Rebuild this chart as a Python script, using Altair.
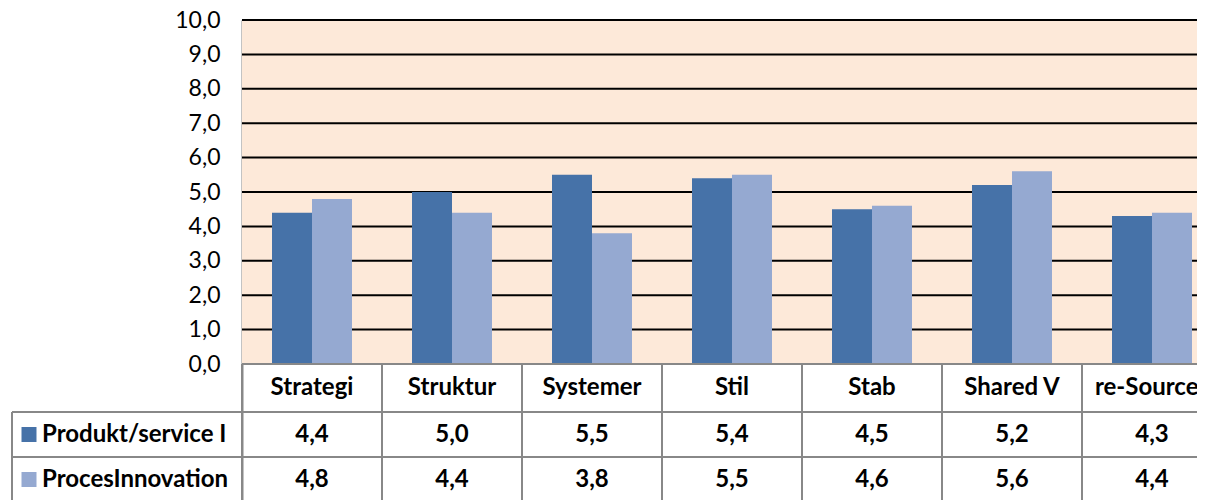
import altair as alt
import pandas as pd

# ---- data ----
categories = ["Strategi", "Struktur", "Systemer", "Stil", "Stab", "Shared V", "re-Sources"]
series_names = ["Produkt/service I", "ProcesInnovation"]
produkt_values = [4.4, 5.0, 5.5, 5.4, 4.5, 5.2, 4.3]
proces_values = [4.8, 4.4, 3.8, 5.5, 4.6, 5.6, 4.4]
y_ticks = [0, 1, 2, 3, 4, 5, 6, 7, 8, 9, 10]

# ---- styles / layout ----
DARK = "#4672A8"
LIGHT = "#95A9D1"
PEACH = "#FDE9D9"
TABLE_LINE = "#888888"
FONT = "Lato"

PX_PER_UNIT = 34.4          # pixels per y unit
FULL_W = 980                # full width of the category bands (partly cut off)
VIEW_W = 955                # visible plot width
Y_MAX = 10.0
# table rows (pixels below value 0)
ROW_CAT_BOTTOM = 48
ROW1_BOTTOM = 93
TABLE_BOTTOM = 138
VIEW_BOTTOM = 136


def v(px_below_zero):
    return -px_below_zero / PX_PER_UNIT


Y_MIN = v(VIEW_BOTTOM)
PLOT_H = (Y_MAX - Y_MIN) * PX_PER_UNIT

values = [produkt_values, proces_values]
colors = [DARK, LIGHT]

rows = []
for s, vals in zip(series_names, values):
    for c, val in zip(categories, vals):
        rows.append({"cat": c, "series": s, "value": val,
                     "label": f"{val:.1f}".replace(".", ",")})
bars_df = pd.DataFrame(rows)
cat_df = pd.DataFrame({"cat": categories})
tick_df = pd.DataFrame({"t": y_ticks})
one = pd.DataFrame({"k": [0]})

xscale = alt.Scale(domain=categories, paddingInner=0, paddingOuter=0, range=[0, FULL_W])
yscale = alt.Scale(domain=[Y_MIN, Y_MAX], nice=False, zero=False)

# peach background for the plot region
bg = alt.Chart(cat_df).mark_rect(color=PEACH).encode(
    x=alt.X("cat:N", scale=xscale, axis=None),
    y=alt.Y("z:Q", scale=yscale,
            axis=alt.Axis(values=y_ticks, grid=False, ticks=False,
                          labelExpr="replace(format(datum.value,'.1f'),'.',',')",
                          labelFont=FONT, labelFontSize=23, labelColor="black",
                          labelPadding=22, domainColor=TABLE_LINE, domainWidth=2,
                          title=None)),
    y2=alt.datum(Y_MAX),
).transform_calculate(z="0")

grid = alt.Chart(tick_df).mark_rule(color="black", strokeWidth=2).encode(
    y=alt.Y("t:Q"),
    x=alt.value(0), x2=alt.value(FULL_W),
).transform_filter("datum.t > 0")

bars = alt.Chart(bars_df).mark_bar().encode(
    x=alt.X("cat:N", scale=xscale, axis=None),
    xOffset=alt.XOffset("series:N", scale=alt.Scale(domain=series_names,
                                                     paddingInner=0, paddingOuter=0.75)),
    y=alt.Y("value:Q"),
    color=alt.Color("series:N", scale=alt.Scale(domain=series_names, range=colors),
                    legend=None),
)

# table lines
vlines = alt.Chart(cat_df).mark_rule(color=TABLE_LINE, strokeWidth=2).encode(
    x=alt.X("cat:N", scale=xscale, axis=None, bandPosition=0),
    y=alt.datum(0), y2=alt.datum(Y_MIN),
)
top_line = alt.Chart(one).mark_rule(color=TABLE_LINE, strokeWidth=2).encode(
    y=alt.datum(0), x=alt.value(0), x2=alt.value(FULL_W))
row_lines = [
    alt.Chart(one).mark_rule(color=TABLE_LINE, strokeWidth=2).encode(
        y=alt.datum(v(b)), x=alt.value(-230), x2=alt.value(FULL_W))
    for b in (ROW_CAT_BOTTOM, ROW1_BOTTOM)
]
left_line = alt.Chart(one).mark_rule(color=TABLE_LINE, strokeWidth=2).encode(
    x=alt.value(-230), y=alt.datum(v(ROW_CAT_BOTTOM)), y2=alt.datum(Y_MIN))

TXT = dict(font=FONT, fontSize=24, fontWeight="bold", color="black", baseline="middle")

cat_text = alt.Chart(cat_df).mark_text(**TXT).encode(
    x=alt.X("cat:N", scale=xscale, axis=None),
    y=alt.datum(v(ROW_CAT_BOTTOM / 2)),
    text="cat:N",
)

row_layers = []
row_tops = [ROW_CAT_BOTTOM, ROW1_BOTTOM]
row_bottoms = [ROW1_BOTTOM, TABLE_BOTTOM]
for i, s in enumerate(series_names):
    yc = v((row_tops[i] + row_bottoms[i]) / 2)
    d = bars_df[bars_df["series"] == s]
    row_layers.append(
        alt.Chart(d).mark_text(**TXT).encode(
            x=alt.X("cat:N", scale=xscale, axis=None),
            y=alt.datum(yc),
            text="label:N",
        ))
    sd = pd.DataFrame({"name": [s]})
    row_layers.append(
        alt.Chart(sd).mark_square(size=225, color=colors[i], opacity=1).encode(
            x=alt.value(-213), y=alt.datum(yc)))
    row_layers.append(
        alt.Chart(sd).mark_text(align="left", **TXT).encode(
            x=alt.value(-200), y=alt.datum(yc), text="name:N"))

chart = alt.layer(
    bg, grid, bars, vlines, top_line, *row_lines, left_line, cat_text, *row_layers
).properties(
    width=VIEW_W, height=PLOT_H,
    autosize=alt.AutoSizeParams(type="none"),
    padding={"left": 234, "top": 12, "right": 0, "bottom": 0},
).configure_view(stroke=None, clip=False)

chart.save("out.html", embed_options={"renderer": "svg", "actions": False})
